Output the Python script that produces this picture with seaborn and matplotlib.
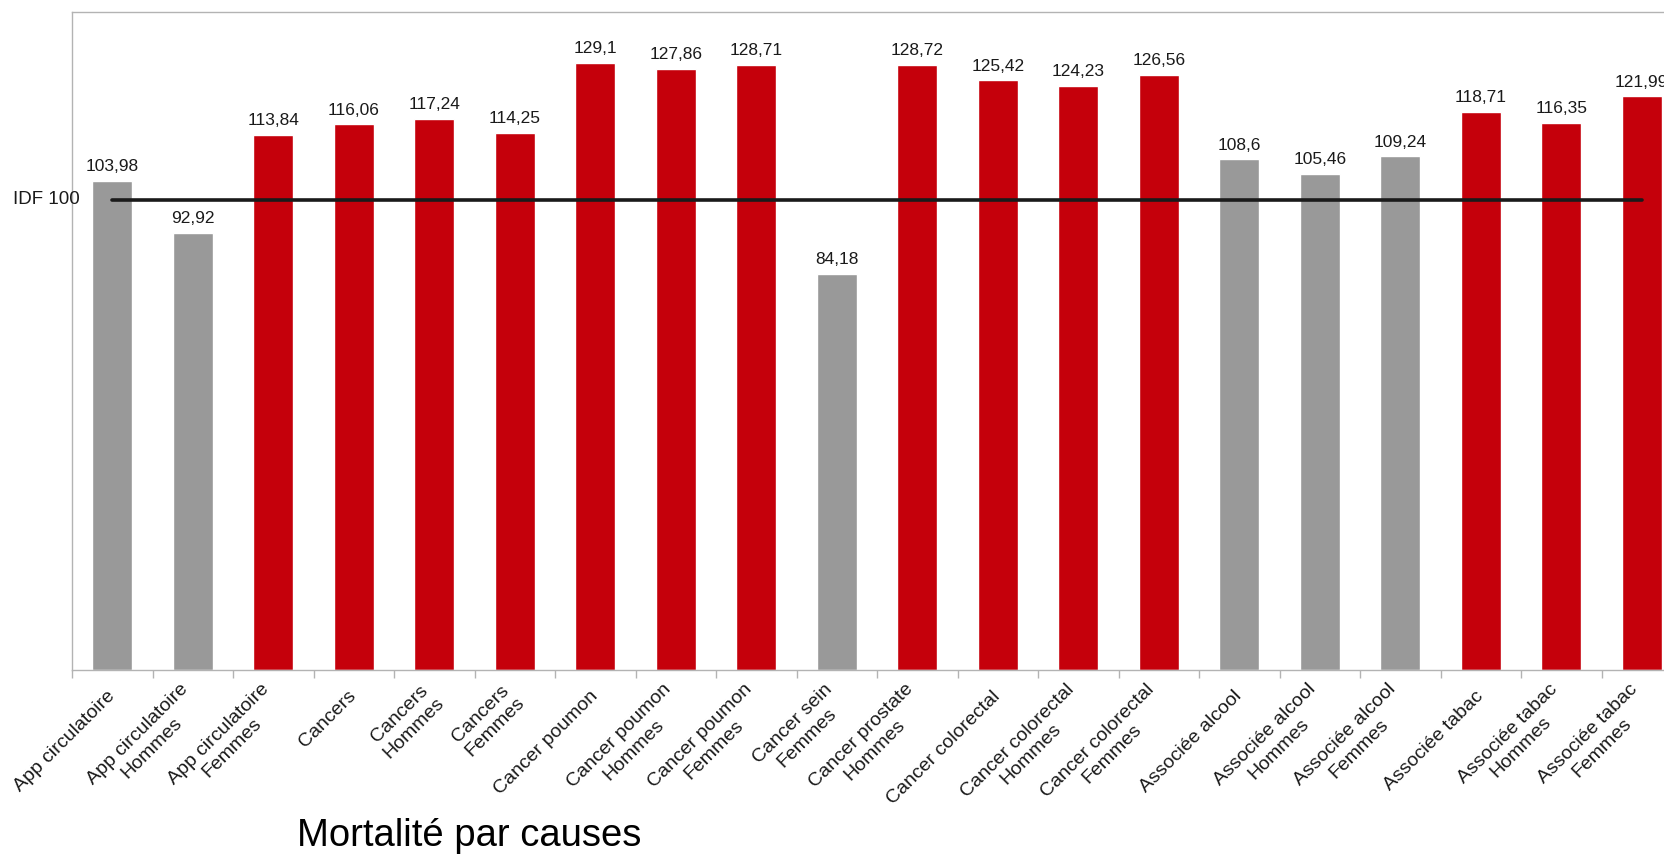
import matplotlib
matplotlib.use("Agg")
import matplotlib.pyplot as plt
from matplotlib.ticker import FixedLocator
import seaborn as sns
import pandas as pd

# Standardised mortality ratios by cause (IDF reference = 100)
categories = [
    "App circulatoire", "App circulatoire\nHommes", "App circulatoire\nFemmes",
    "Cancers", "Cancers\nHommes", "Cancers\nFemmes",
    "Cancer poumon", "Cancer poumon\nHommes", "Cancer poumon\nFemmes",
    "Cancer sein\nFemmes", "Cancer prostate\nHommes",
    "Cancer colorectal", "Cancer colorectal\nHommes", "Cancer colorectal\nFemmes",
    "Associée alcool", "Associée alcool\nHommes", "Associée alcool\nFemmes",
    "Associée tabac", "Associée tabac\nHommes", "Associée tabac\nFemmes",
]
values = [103.98, 92.92, 113.84, 116.06, 117.24, 114.25, 129.1, 127.86, 128.71,
          84.18, 128.72, 125.42, 124.23, 126.56, 108.6, 105.46, 109.24,
          118.71, 116.35, 121.99]
# Significant difference from the regional reference
significant = [False, False, True, True, True, True, True, True, True,
               False, True, True, True, True, False, False, False,
               True, True, True]
idf_reference = 100
value_labels = [f"{v:g}".replace(".", ",") for v in values]

RED = "#c5000b"
GREY = "#999999"
SPINE = "#b3b3b3"

sns.set_theme(style="white")
plt.rcParams["font.family"] = ["Liberation Sans", "DejaVu Sans"]

df = pd.DataFrame({"cause": categories, "smr": values,
                   "sig": ["oui" if s else "non" for s in significant]})

fig = plt.figure(figsize=(16.64, 8.55), dpi=100)
ax = fig.add_axes([72 / 1664, 185 / 855, 1610 / 1664, 658.3 / 855])

sns.barplot(data=df, x="cause", y="smr", hue="sig",
            palette={"oui": RED, "non": GREY}, width=0.5, dodge=False,
            legend=False, ax=ax, saturation=1)

# Reference line for the region
ref_df = pd.DataFrame({"cause": categories, "ref": [idf_reference] * len(categories)})
sns.lineplot(data=ref_df, x="cause", y="ref", color="#1a1a1a", linewidth=2.6,
             ax=ax, sort=False)

ax.set_xlim(-0.5, len(categories) - 0.5)
ax.set_ylim(0, 140)
ax.set_xlabel("")
ax.set_ylabel("")
ax.set_yticks([])

# Value labels above bars
for i, (v, lab) in enumerate(zip(values, value_labels)):
    ax.annotate(lab, xy=(i, v), xytext=(0, 7), textcoords="offset points",
                ha="center", va="baseline", fontsize=12.5, color="#1a1a1a")

ax.text(0.005, idf_reference, "IDF 100", transform=ax.get_yaxis_transform(),
        ha="right", va="center", fontsize=13.5, color="#1a1a1a")

# Category labels at bar centres, tick marks on category boundaries
ax.set_xticks(range(len(categories)))
ax.set_xticklabels(categories, rotation=45, ha="right", va="center",
                   rotation_mode="anchor", multialignment="center",
                   fontsize=14, color="#1a1a1a")
ax.xaxis.set_minor_locator(FixedLocator([i - 0.5 for i in range(len(categories) + 1)]))
ax.tick_params(axis="x", which="major", length=0, pad=17)
ax.tick_params(axis="x", which="minor", bottom=True, length=6, width=1, color=SPINE)

for side in ["left", "top", "bottom"]:
    ax.spines[side].set_color(SPINE)
    ax.spines[side].set_linewidth(1)
ax.spines["right"].set_visible(False)

fig.text(469 / 1664, 1 - 836 / 855, "Mortalité par causes", ha="center",
         va="center", fontsize=27.5, color="black")

fig.savefig("out.png", dpi=100)
